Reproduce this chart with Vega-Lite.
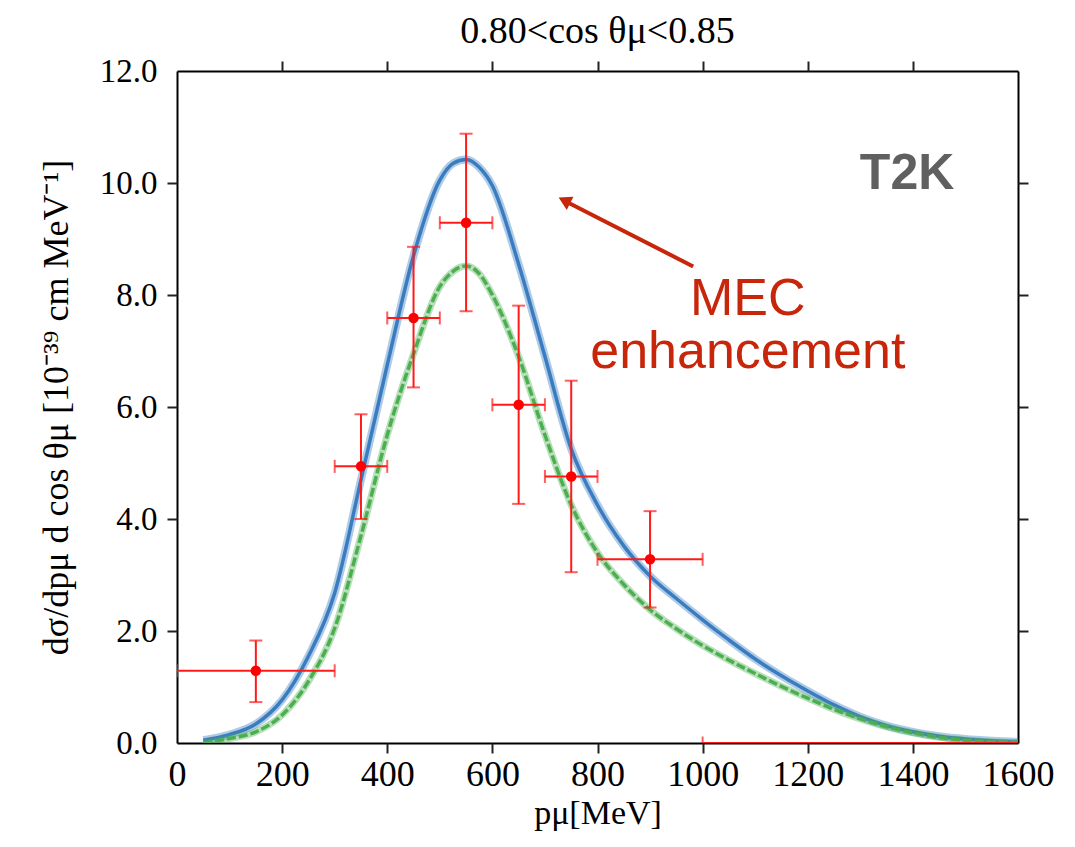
{
  "$schema": "https://vega.github.io/schema/vega-lite/v6.json",
  "autosize": {"type": "none"},
  "width": 841,
  "height": 672,
  "padding": {"left": 177, "top": 71, "right": 57, "bottom": 104},
  "background": "white",
  "title": {"text": "0.80<cos θμ<0.85", "font": "Liberation Serif", "fontSize": 38, "fontWeight": "normal", "color": "black", "offset": 4, "anchor": "middle"},
  "config": {
    "view": {"stroke": null},
    "axis": {"domainColor": "black", "domainWidth": 2, "ticks": false, "grid": false, "tickColor": "#222222", "tickWidth": 2, "labelFont": "Liberation Serif", "labelColor": "black", "titleFont": "Liberation Serif", "titleColor": "black", "titleFontWeight": "normal"}
  },
  "datasets": {
    "theory": [
      {"p": 50, "mec": 0.05, "nomec": 0.0},
      {"p": 100, "mec": 0.15, "nomec": 0.08},
      {"p": 150, "mec": 0.34, "nomec": 0.2},
      {"p": 200, "mec": 0.77, "nomec": 0.5},
      {"p": 250, "mec": 1.55, "nomec": 1.1},
      {"p": 300, "mec": 2.68, "nomec": 2.05},
      {"p": 350, "mec": 4.7, "nomec": 3.7},
      {"p": 400, "mec": 6.75, "nomec": 5.5},
      {"p": 450, "mec": 8.7, "nomec": 6.95},
      {"p": 500, "mec": 10.05, "nomec": 8.15},
      {"p": 525, "mec": 10.35, "nomec": 8.42},
      {"p": 550, "mec": 10.42, "nomec": 8.52},
      {"p": 575, "mec": 10.28, "nomec": 8.38},
      {"p": 600, "mec": 9.95, "nomec": 8.0},
      {"p": 650, "mec": 8.55, "nomec": 6.9},
      {"p": 700, "mec": 6.9, "nomec": 5.5},
      {"p": 750, "mec": 5.25, "nomec": 4.25},
      {"p": 800, "mec": 4.25, "nomec": 3.4},
      {"p": 850, "mec": 3.52, "nomec": 2.83},
      {"p": 900, "mec": 2.98, "nomec": 2.38},
      {"p": 950, "mec": 2.58, "nomec": 2.04},
      {"p": 1000, "mec": 2.2, "nomec": 1.74},
      {"p": 1050, "mec": 1.84, "nomec": 1.48},
      {"p": 1100, "mec": 1.5, "nomec": 1.24},
      {"p": 1150, "mec": 1.2, "nomec": 1.01},
      {"p": 1200, "mec": 0.93, "nomec": 0.8},
      {"p": 1250, "mec": 0.68, "nomec": 0.6},
      {"p": 1300, "mec": 0.47, "nomec": 0.43},
      {"p": 1350, "mec": 0.31, "nomec": 0.29},
      {"p": 1400, "mec": 0.2, "nomec": 0.18},
      {"p": 1450, "mec": 0.12, "nomec": 0.1},
      {"p": 1500, "mec": 0.07, "nomec": 0.05},
      {"p": 1550, "mec": 0.04, "nomec": 0.02},
      {"p": 1600, "mec": 0.02, "nomec": 0.01}
    ],
    "points": [
      {"p": 150, "xlo": 0, "xhi": 300, "y": 1.29, "ylo": 0.73, "yhi": 1.83},
      {"p": 350, "xlo": 300, "xhi": 400, "y": 4.94, "ylo": 4.0, "yhi": 5.87},
      {"p": 450, "xlo": 400, "xhi": 500, "y": 7.59, "ylo": 6.35, "yhi": 8.86},
      {"p": 550, "xlo": 500, "xhi": 600, "y": 9.29, "ylo": 7.71, "yhi": 10.88},
      {"p": 650, "xlo": 600, "xhi": 700, "y": 6.04, "ylo": 4.27, "yhi": 7.81},
      {"p": 750, "xlo": 700, "xhi": 800, "y": 4.76, "ylo": 3.05, "yhi": 6.47},
      {"p": 900, "xlo": 800, "xhi": 1000, "y": 3.28, "ylo": 2.42, "yhi": 4.14},
      {"p": 2000, "xlo": 1000, "xhi": 3000, "y": 0.0, "ylo": 0.0, "yhi": 0.0}
    ]
  },
  "layer": [
    {
      "data": {"name": "theory"},
      "mark": {"type": "line", "color": "#3a7cc0", "opacity": 0.4, "strokeWidth": 8, "interpolate": "monotone", "clip": true},
      "encoding": {
        "x": {"field": "p", "type": "quantitative", "scale": {"domain": [0, 1600], "nice": false, "zero": false}, "axis": {"orient": "bottom", "values": [0, 200, 400, 600, 800, 1000, 1200, 1400, 1600], "format": "d", "labelFlush": false, "labelFontSize": 36, "labelPadding": 14, "title": "pμ[MeV]", "titleFontSize": 34, "titlePadding": 4}},
        "y": {"field": "mec", "type": "quantitative", "scale": {"domain": [0, 12], "nice": false}, "axis": {"orient": "left", "values": [0, 2, 4, 6, 8, 10, 12], "format": ".1f", "labelFlush": false, "labelFontSize": 33, "labelPadding": 20, "title": "dσ/dpμ d cos θμ   [10⁻³⁹ cm MeV⁻¹]", "titleFontSize": 36, "titlePadding": 24}}
      }
    },
    {
      "data": {"name": "theory"},
      "mark": {"type": "line", "color": "#3a7cc0", "strokeWidth": 3.5, "interpolate": "monotone", "clip": true},
      "encoding": {
        "x": {"field": "p", "type": "quantitative", "axis": {"orient": "top", "labels": false, "title": null}},
        "y": {"field": "mec", "type": "quantitative", "axis": {"orient": "right", "labels": false, "title": null}}
      }
    },
    {
      "data": {"name": "theory"},
      "mark": {"type": "line", "color": "#4caf4f", "opacity": 0.4, "strokeWidth": 7, "interpolate": "monotone", "clip": true},
      "encoding": {
        "x": {"field": "p", "type": "quantitative", "axis": {"orient": "bottom", "domain": false, "labels": false, "ticks": true, "tickSize": 10, "values": [200, 400, 600, 800, 1000, 1200, 1400], "title": null}},
        "y": {"field": "nomec", "type": "quantitative", "axis": {"orient": "left", "domain": false, "labels": false, "ticks": true, "tickSize": 10, "values": [2, 4, 6, 8, 10], "title": null}}
      }
    },
    {
      "data": {"name": "theory"},
      "mark": {"type": "line", "color": "#4caf4f", "strokeWidth": 3.5, "strokeDash": [9, 3], "interpolate": "monotone", "clip": true},
      "encoding": {
        "x": {"field": "p", "type": "quantitative", "axis": {"orient": "top", "domain": false, "labels": false, "ticks": true, "tickSize": 10, "values": [200, 400, 600, 800, 1000, 1200, 1400], "title": null}},
        "y": {"field": "nomec", "type": "quantitative", "axis": {"orient": "right", "domain": false, "labels": false, "ticks": true, "tickSize": 10, "values": [2, 4, 6, 8, 10], "title": null}}
      }
    },
    {
      "data": {"name": "points"},
      "mark": {"type": "rule", "color": "#ff1a1a", "strokeWidth": 2, "clip": true},
      "encoding": {
        "x": {"field": "xlo", "type": "quantitative", "axis": null},
        "x2": {"field": "xhi"},
        "y": {"field": "y", "type": "quantitative", "axis": null}
      }
    },
    {
      "data": {"name": "points"},
      "mark": {"type": "rule", "color": "#ff1a1a", "strokeWidth": 2, "clip": true},
      "encoding": {
        "x": {"field": "p", "type": "quantitative", "axis": null},
        "y": {"field": "ylo", "type": "quantitative", "axis": null},
        "y2": {"field": "yhi"}
      }
    },
    {
      "data": {"name": "points"},
      "mark": {"type": "tick", "orient": "horizontal", "color": "#ff1a1a", "size": 13, "thickness": 2, "clip": true},
      "encoding": {
        "x": {"field": "p", "type": "quantitative", "axis": null},
        "y": {"field": "ylo", "type": "quantitative", "axis": null}
      }
    },
    {
      "data": {"name": "points"},
      "mark": {"type": "tick", "orient": "horizontal", "color": "#ff1a1a", "size": 13, "thickness": 2, "clip": true},
      "encoding": {
        "x": {"field": "p", "type": "quantitative", "axis": null},
        "y": {"field": "yhi", "type": "quantitative", "axis": null}
      }
    },
    {
      "data": {"name": "points"},
      "mark": {"type": "tick", "orient": "vertical", "color": "#ff1a1a", "size": 13, "thickness": 2, "clip": true},
      "encoding": {
        "x": {"field": "xlo", "type": "quantitative", "axis": null},
        "y": {"field": "y", "type": "quantitative", "axis": null}
      }
    },
    {
      "data": {"name": "points"},
      "mark": {"type": "tick", "orient": "vertical", "color": "#ff1a1a", "size": 13, "thickness": 2, "clip": true},
      "encoding": {
        "x": {"field": "xhi", "type": "quantitative", "axis": null},
        "y": {"field": "y", "type": "quantitative", "axis": null}
      }
    },
    {
      "data": {"name": "points"},
      "mark": {"type": "point", "shape": "circle", "filled": true, "color": "#ff0000", "opacity": 1, "size": 110, "clip": true},
      "encoding": {
        "x": {"field": "p", "type": "quantitative", "axis": null},
        "y": {"field": "y", "type": "quantitative", "axis": null}
      }
    },
    {
      "data": {"values": [{"x1": 982, "y1": 8.51, "x2": 738, "y2": 9.68}]},
      "mark": {"type": "rule", "color": "#c8260a", "strokeWidth": 4},
      "encoding": {
        "x": {"field": "x1", "type": "quantitative", "axis": null},
        "y": {"field": "y1", "type": "quantitative", "axis": null},
        "x2": {"field": "x2"},
        "y2": {"field": "y2"}
      }
    },
    {
      "data": {"values": [{"x": 737, "y": 9.69}]},
      "mark": {"type": "point", "shape": "triangle-up", "filled": true, "color": "#c8260a", "opacity": 1, "size": 220, "angle": 297},
      "encoding": {
        "x": {"field": "x", "type": "quantitative", "axis": null},
        "y": {"field": "y", "type": "quantitative", "axis": null}
      }
    },
    {
      "data": {"values": [{"x": 1086, "y": 7.65, "t": "MEC"}, {"x": 1086, "y": 6.7, "t": "enhancement"}]},
      "mark": {"type": "text", "font": "Liberation Sans", "fontSize": 52, "color": "#c8260a", "align": "center", "baseline": "alphabetic"},
      "encoding": {
        "x": {"field": "x", "type": "quantitative", "axis": null},
        "y": {"field": "y", "type": "quantitative", "axis": null},
        "text": {"field": "t"}
      }
    },
    {
      "data": {"values": [{"x": 1389, "y": 9.9, "t": "T2K"}]},
      "mark": {"type": "text", "font": "Liberation Sans", "fontSize": 50, "fontWeight": "bold", "color": "#606060", "align": "center", "baseline": "alphabetic"},
      "encoding": {
        "x": {"field": "x", "type": "quantitative", "axis": null},
        "y": {"field": "y", "type": "quantitative", "axis": null},
        "text": {"field": "t"}
      }
    }
  ],
  "resolve": {"axis": {"x": "independent", "y": "independent"}}
}
